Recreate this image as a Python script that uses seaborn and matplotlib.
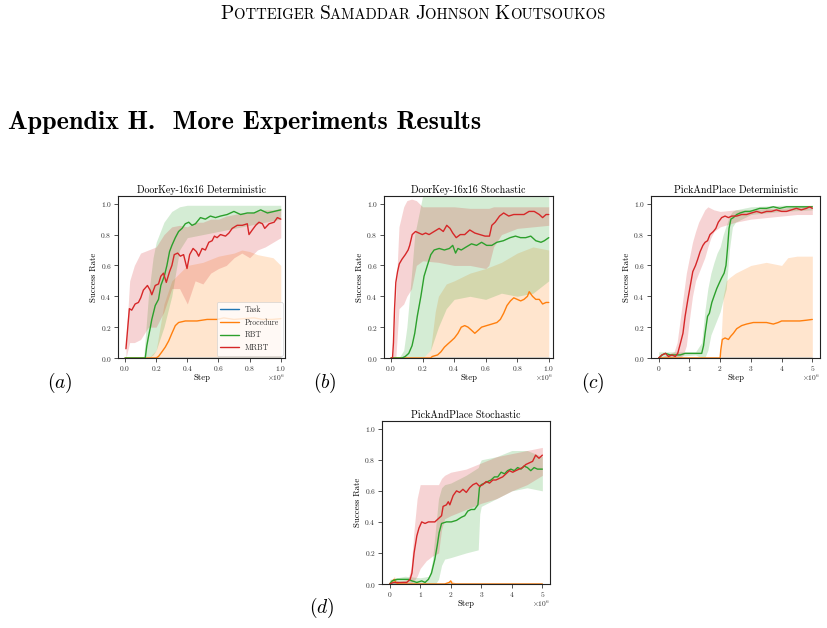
import numpy as np
import pandas as pd
import seaborn as sns
import matplotlib
matplotlib.use("Agg")
import matplotlib.pyplot as plt

# -------------------------
# 1. Data (steps in units of 1e6)
# -------------------------
series_names = ["Task", "Procedure", "RBT", "MRBT"]
series_colors = ["#1f77b4", "#ff7f0e", "#2ca02c", "#d62728"]

# ---- (a) DoorKey-16x16 Deterministic
a_task_x = [0.0, 1.0]
a_task_y = [0.0, 0.0]

a_proc_x = [0.0, 0.2, 0.215, 0.237, 0.258, 0.280, 0.301, 0.323, 0.344, 0.387, 0.462,
            0.527, 0.591, 0.634, 0.699, 0.763, 0.828, 0.882, 0.946, 1.0]
a_proc_y = [0.0, 0.0, 0.01, 0.04, 0.07, 0.11, 0.16, 0.21, 0.23, 0.24, 0.24,
            0.25, 0.25, 0.26, 0.25, 0.255, 0.26, 0.25, 0.25, 0.255]
a_proc_bx = [0.0, 0.15, 0.2, 0.25, 0.3, 0.35, 0.4, 0.5, 0.6, 0.7, 0.75, 0.8, 0.85, 0.9, 0.95, 1.0]
a_proc_lo = [0.0] * 16
a_proc_hi = [0.0, 0.0, 0.05, 0.35, 0.5, 0.55, 0.6, 0.62, 0.66, 0.68, 0.70, 0.69, 0.67, 0.66, 0.65, 0.6]

a_rbt_x = [0.0, 0.13, 0.140, 0.151, 0.161, 0.172, 0.194, 0.215, 0.230, 0.252, 0.269, 0.286,
           0.301, 0.323, 0.344, 0.366, 0.387, 0.409, 0.430, 0.452, 0.484, 0.516, 0.548,
           0.581, 0.613, 0.656, 0.699, 0.742, 0.785, 0.828, 0.871, 0.914, 0.957, 1.0]
a_rbt_y = [0.0, 0.0, 0.08, 0.14, 0.19, 0.25, 0.34, 0.38, 0.47, 0.53, 0.60, 0.69,
           0.73, 0.78, 0.82, 0.84, 0.87, 0.88, 0.86, 0.87, 0.91, 0.90, 0.92,
           0.91, 0.92, 0.93, 0.95, 0.93, 0.94, 0.94, 0.96, 0.94, 0.95, 0.96]
a_rbt_bx = [0.0, 0.12, 0.15, 0.18, 0.2, 0.25, 0.3, 0.35, 0.4, 0.5, 0.6, 0.7, 0.8, 0.9, 1.0]
a_rbt_lo = [0.0, 0.0, 0.0, 0.02, 0.05, 0.2, 0.4, 0.7, 0.78, 0.8, 0.82, 0.84, 0.86, 0.88, 0.9]
a_rbt_hi = [0.0, 0.0, 0.4, 0.65, 0.75, 0.88, 0.95, 0.98, 0.99, 0.99, 0.99, 0.99, 0.99, 0.99, 0.99]

a_mrbt_x = [0.006, 0.028, 0.043, 0.065, 0.086, 0.101, 0.118, 0.144, 0.161, 0.172, 0.194,
            0.215, 0.230, 0.247, 0.265, 0.286, 0.301, 0.316, 0.338, 0.355, 0.376, 0.398,
            0.415, 0.437, 0.458, 0.473, 0.495, 0.516, 0.538, 0.559, 0.574, 0.591, 0.613,
            0.645, 0.667, 0.688, 0.720, 0.753, 0.785, 0.796, 0.817, 0.839, 0.860, 0.882,
            0.897, 0.925, 0.957, 0.978, 1.0]
a_mrbt_y = [0.06, 0.32, 0.31, 0.35, 0.36, 0.39, 0.44, 0.47, 0.44, 0.41, 0.47,
            0.48, 0.53, 0.55, 0.49, 0.56, 0.60, 0.67, 0.68, 0.66, 0.67, 0.58,
            0.67, 0.71, 0.69, 0.66, 0.71, 0.70, 0.75, 0.76, 0.79, 0.78, 0.80,
            0.79, 0.81, 0.84, 0.86, 0.86, 0.87, 0.80, 0.83, 0.86, 0.88, 0.87,
            0.84, 0.87, 0.88, 0.91, 0.90]
a_mrbt_bx = [0.006, 0.03, 0.06, 0.1, 0.15, 0.2, 0.25, 0.3, 0.35, 0.4, 0.45, 0.5, 0.55,
             0.6, 0.65, 0.7, 0.75, 0.8, 0.85, 0.9, 0.95, 1.0]
a_mrbt_lo = [0.0, 0.1, 0.1, 0.12, 0.2, 0.2, 0.3, 0.45, 0.45, 0.35, 0.5, 0.48, 0.55,
             0.58, 0.6, 0.65, 0.68, 0.65, 0.7, 0.72, 0.75, 0.78]
a_mrbt_hi = [0.1, 0.5, 0.6, 0.68, 0.70, 0.72, 0.8, 0.85, 0.86, 0.85, 0.88, 0.88, 0.9,
             0.9, 0.92, 0.93, 0.94, 0.94, 0.95, 0.96, 0.96, 0.97]

# ---- (b) DoorKey-16x16 Stochastic
b_task_x = [0.0, 1.0]
b_task_y = [0.0, 0.0]

b_proc_x = [0.0, 0.25, 0.262, 0.295, 0.316, 0.338, 0.359, 0.381, 0.402, 0.424, 0.445,
            0.467, 0.488, 0.510, 0.531, 0.553, 0.574, 0.606, 0.639, 0.671, 0.693, 0.714,
            0.735, 0.757, 0.778, 0.800, 0.822, 0.843, 0.865, 0.876, 0.897, 0.918, 0.940,
            0.961, 0.983, 1.0]
b_proc_y = [0.0, 0.0, 0.01, 0.02, 0.04, 0.07, 0.09, 0.11, 0.13, 0.16, 0.20,
            0.21, 0.20, 0.18, 0.16, 0.18, 0.20, 0.21, 0.22, 0.23, 0.25, 0.29,
            0.34, 0.37, 0.39, 0.38, 0.37, 0.38, 0.40, 0.43, 0.40, 0.38, 0.38,
            0.35, 0.36, 0.36]
b_proc_bx = [0.0, 0.2, 0.25, 0.28, 0.3, 0.35, 0.4, 0.5, 0.6, 0.7, 0.8, 0.9, 1.0]
b_proc_lo = [0.0] * 13
b_proc_hi = [0.0, 0.0, 0.05, 0.3, 0.4, 0.48, 0.5, 0.55, 0.58, 0.62, 0.68, 0.72, 0.7]

b_rbt_x = [0.0, 0.07, 0.090, 0.112, 0.133, 0.150, 0.166, 0.189, 0.209, 0.230, 0.252,
           0.273, 0.305, 0.338, 0.370, 0.391, 0.409, 0.424, 0.445, 0.477, 0.510, 0.542,
           0.574, 0.606, 0.639, 0.671, 0.712, 0.755, 0.789, 0.821, 0.854, 0.886, 0.918,
           0.951, 0.972, 1.0]
b_rbt_y = [0.0, 0.0, 0.01, 0.03, 0.08, 0.16, 0.27, 0.40, 0.53, 0.60, 0.67,
           0.70, 0.71, 0.70, 0.71, 0.73, 0.68, 0.71, 0.70, 0.72, 0.74, 0.73,
           0.75, 0.73, 0.73, 0.75, 0.76, 0.78, 0.79, 0.78, 0.78, 0.79, 0.76,
           0.75, 0.76, 0.78]
b_rbt_bx = [0.0, 0.05, 0.08, 0.1, 0.13, 0.15, 0.18, 0.2, 0.25, 0.3, 0.35, 0.4, 0.5,
            0.6, 0.7, 0.8, 0.9, 1.0]
b_rbt_lo = [0.0, 0.0, 0.0, 0.0, 0.0, 0.0, 0.0, 0.0, 0.05, 0.2, 0.32, 0.38, 0.4,
            0.38, 0.42, 0.4, 0.42, 0.5]
b_rbt_hi = [0.0, 0.0, 0.05, 0.2, 0.55, 0.8, 0.95, 1.05, 1.05, 1.05, 1.05, 1.05, 1.05,
            1.05, 1.05, 1.05, 1.05, 1.05]

b_mrbt_x = [0.0, 0.009, 0.015, 0.022, 0.030, 0.041, 0.052, 0.069, 0.090, 0.108, 0.118,
            0.134, 0.155, 0.176, 0.198, 0.219, 0.241, 0.273, 0.305, 0.331, 0.353, 0.374,
            0.391, 0.413, 0.439, 0.467, 0.499, 0.531, 0.563, 0.596, 0.624, 0.639, 0.660,
            0.688, 0.714, 0.746, 0.778, 0.811, 0.843, 0.875, 0.908, 0.940, 0.961, 0.983,
            1.0]
b_mrbt_y = [0.0, 0.0, 0.10, 0.32, 0.49, 0.56, 0.61, 0.64, 0.67, 0.70, 0.73,
            0.80, 0.82, 0.81, 0.80, 0.81, 0.80, 0.82, 0.84, 0.82, 0.86, 0.84,
            0.81, 0.78, 0.80, 0.80, 0.83, 0.81, 0.80, 0.79, 0.79, 0.86, 0.88,
            0.92, 0.94, 0.92, 0.93, 0.93, 0.93, 0.95, 0.95, 0.93, 0.91, 0.93,
            0.93]
b_mrbt_bx = [0.0, 0.01, 0.03, 0.05, 0.08, 0.1, 0.13, 0.16, 0.2, 0.3, 0.4, 0.5, 0.6,
             0.62, 0.65, 0.7, 0.8, 0.9, 1.0]
b_mrbt_lo = [0.0, 0.0, 0.0, 0.32, 0.35, 0.4, 0.45, 0.6, 0.63, 0.62, 0.6, 0.6, 0.58,
             0.6, 0.72, 0.8, 0.84, 0.85, 0.86]
b_mrbt_hi = [0.0, 0.0, 0.4, 0.85, 0.98, 1.02, 1.03, 1.02, 0.98, 0.98, 0.98, 0.97, 0.97,
             0.97, 0.98, 0.98, 0.98, 0.98, 0.98]

# ---- (c) PickAndPlace Deterministic
c_task_x = [0.0, 5.0]
c_task_y = [0.0, 0.0]

c_proc_x = [0.0, 2.0, 2.02, 2.07, 2.16, 2.27, 2.34, 2.43, 2.54, 2.70, 2.86, 3.08,
            3.29, 3.51, 3.73, 3.89, 4.0, 4.27, 4.59, 4.81, 5.0]
c_proc_y = [0.0, 0.0, 0.05, 0.12, 0.13, 0.12, 0.14, 0.16, 0.19, 0.21, 0.22, 0.23,
            0.23, 0.23, 0.22, 0.23, 0.24, 0.24, 0.24, 0.245, 0.25]
c_proc_bx = [0.0, 2.0, 2.05, 2.1, 2.2, 2.3, 2.5, 3.0, 3.5, 4.0, 4.2, 4.5, 5.0]
c_proc_lo = [0.0] * 13
c_proc_hi = [0.0, 0.0, 0.2, 0.4, 0.5, 0.52, 0.55, 0.6, 0.62, 0.6, 0.65, 0.66, 0.66]

c_rbt_x = [0.0, 0.11, 0.22, 0.38, 0.54, 0.70, 0.86, 1.03, 1.19, 1.30, 1.40, 1.46,
           1.51, 1.59, 1.65, 1.73, 1.80, 1.89, 1.98, 2.05, 2.13, 2.19, 2.24, 2.29,
           2.35, 2.43, 2.54, 2.65, 2.81, 2.97, 3.13, 3.29, 3.51, 3.73, 3.94, 4.16,
           4.37, 4.59, 4.81, 5.0]
c_rbt_y = [0.0, 0.02, 0.03, 0.02, 0.02, 0.02, 0.03, 0.03, 0.03, 0.03, 0.03, 0.08,
           0.16, 0.27, 0.29, 0.36, 0.40, 0.45, 0.49, 0.52, 0.55, 0.60, 0.71, 0.84,
           0.90, 0.91, 0.93, 0.94, 0.95, 0.95, 0.96, 0.97, 0.97, 0.98, 0.97, 0.98,
           0.98, 0.98, 0.98, 0.98]
c_rbt_bx = [0.0, 1.2, 1.4, 1.5, 1.6, 1.7, 1.8, 1.9, 2.0, 2.1, 2.2, 2.3, 2.4, 2.5, 3.0,
            4.0, 5.0]
c_rbt_lo = [0.0, 0.02, 0.0, 0.0, 0.05, 0.15, 0.2, 0.25, 0.3, 0.38, 0.45, 0.7, 0.85,
            0.88, 0.93, 0.95, 0.96]
c_rbt_hi = [0.04, 0.04, 0.1, 0.3, 0.45, 0.55, 0.62, 0.68, 0.72, 0.8, 0.86, 0.92, 0.95,
            0.96, 0.98, 0.99, 0.99]

c_mrbt_x = [0.0, 0.11, 0.22, 0.32, 0.43, 0.54, 0.62, 0.70, 0.79, 0.86, 0.95, 1.03,
            1.11, 1.20, 1.27, 1.35, 1.44, 1.51, 1.59, 1.67, 1.78, 1.86, 1.94, 2.05,
            2.16, 2.27, 2.38, 2.54, 2.70, 2.86, 3.02, 3.19, 3.35, 3.51, 3.67, 3.83,
            4.0, 4.16, 4.32, 4.48, 4.64, 4.81, 4.91, 5.0]
c_mrbt_y = [0.0, 0.02, 0.03, 0.01, 0.02, 0.01, 0.03, 0.09, 0.16, 0.27, 0.38, 0.47,
            0.56, 0.60, 0.64, 0.69, 0.73, 0.75, 0.76, 0.80, 0.82, 0.84, 0.88, 0.91,
            0.92, 0.91, 0.92, 0.92, 0.93, 0.93, 0.94, 0.95, 0.94, 0.95, 0.95, 0.96,
            0.95, 0.95, 0.96, 0.97, 0.96, 0.97, 0.98, 0.97]
c_mrbt_bx = [0.0, 0.5, 0.6, 0.7, 0.8, 0.9, 1.0, 1.1, 1.2, 1.3, 1.4, 1.5, 1.6, 1.7,
             1.8, 2.0, 2.5, 3.0, 3.5, 4.0, 4.5, 5.0]
c_mrbt_lo = [0.0, 0.0, 0.0, 0.0, 0.02, 0.08, 0.25, 0.4, 0.5, 0.55, 0.6, 0.65, 0.72,
             0.78, 0.82, 0.85, 0.88, 0.9, 0.91, 0.92, 0.93, 0.93]
c_mrbt_hi = [0.0, 0.04, 0.1, 0.25, 0.4, 0.55, 0.65, 0.75, 0.82, 0.88, 0.92, 0.96,
             0.98, 0.97, 0.96, 0.95, 0.96, 0.96, 0.97, 0.97, 0.98, 0.99]

# ---- (d) PickAndPlace Stochastic
d_task_x = [0.0, 5.0]
d_task_y = [0.0, 0.0]

d_proc_x = [0.0, 0.1, 0.15, 0.2, 0.3, 1.8, 1.95, 2.0, 2.05, 2.2, 5.0]
d_proc_y = [0.0, 0.02, 0.03, 0.01, 0.0, 0.0, 0.01, 0.02, 0.0, 0.0, 0.0]
d_proc_bx = [0.0, 0.1, 0.15, 0.25, 0.5, 1.8, 1.95, 2.05, 2.2, 5.0]
d_proc_lo = [0.0] * 10
d_proc_hi = [0.0, 0.03, 0.05, 0.02, 0.0, 0.0, 0.02, 0.02, 0.0, 0.0]

d_rbt_x = [0.0, 0.08, 0.24, 0.45, 0.62, 0.73, 0.89, 1.05, 1.16, 1.27, 1.37, 1.48,
           1.56, 1.62, 1.70, 1.86, 2.02, 2.19, 2.35, 2.46, 2.56, 2.67, 2.78, 2.89,
           2.94, 3.0, 3.11, 3.21, 3.32, 3.43, 3.54, 3.65, 3.76, 3.86, 3.97, 4.08,
           4.19, 4.30, 4.40, 4.51, 4.62, 4.73, 4.84, 4.95, 5.0]
d_rbt_y = [0.0, 0.02, 0.03, 0.03, 0.03, 0.02, 0.01, 0.02, 0.01, 0.03, 0.07, 0.16,
           0.25, 0.33, 0.39, 0.40, 0.40, 0.41, 0.43, 0.44, 0.47, 0.48, 0.48, 0.51,
           0.62, 0.64, 0.65, 0.66, 0.67, 0.69, 0.69, 0.72, 0.71, 0.73, 0.74, 0.73,
           0.75, 0.74, 0.76, 0.75, 0.73, 0.75, 0.74, 0.74, 0.74]
d_rbt_bx = [0.0, 0.5, 1.0, 1.3, 1.4, 1.5, 1.6, 1.7, 1.8, 2.0, 2.5, 2.9, 2.95, 3.0,
            3.5, 4.0, 4.5, 5.0]
d_rbt_lo = [0.0, 0.01, 0.0, 0.0, 0.0, 0.0, 0.03, 0.12, 0.16, 0.17, 0.2, 0.22, 0.45,
            0.5, 0.55, 0.6, 0.62, 0.6]
d_rbt_hi = [0.03, 0.05, 0.04, 0.05, 0.15, 0.35, 0.55, 0.62, 0.64, 0.65, 0.7, 0.75,
            0.78, 0.8, 0.82, 0.86, 0.86, 0.82]

d_mrbt_x = [0.0, 0.13, 0.35, 0.56, 0.67, 0.73, 0.80, 0.89, 0.96, 1.05, 1.16, 1.27,
            1.37, 1.48, 1.59, 1.70, 1.75, 1.86, 1.92, 1.97, 2.08, 2.19, 2.29, 2.40,
            2.51, 2.62, 2.73, 2.84, 2.94, 3.05, 3.16, 3.27, 3.38, 3.48, 3.59, 3.70,
            3.81, 3.92, 4.03, 4.13, 4.24, 4.35, 4.46, 4.57, 4.68, 4.78, 4.89, 5.0]
d_mrbt_y = [0.0, 0.01, 0.01, 0.01, 0.03, 0.07, 0.20, 0.31, 0.36, 0.40, 0.39, 0.40,
            0.40, 0.40, 0.42, 0.44, 0.50, 0.51, 0.53, 0.51, 0.57, 0.60, 0.59, 0.61,
            0.59, 0.62, 0.64, 0.65, 0.63, 0.64, 0.66, 0.65, 0.67, 0.67, 0.68, 0.69,
            0.71, 0.73, 0.72, 0.73, 0.74, 0.75, 0.77, 0.78, 0.79, 0.83, 0.81, 0.83]
d_mrbt_bx = [0.0, 0.6, 0.7, 0.8, 0.9, 1.0, 1.2, 1.4, 1.6, 1.7, 1.8, 2.0, 2.5, 3.0,
             3.5, 4.0, 4.5, 5.0]
d_mrbt_lo = [0.0, 0.0, 0.0, 0.02, 0.05, 0.1, 0.15, 0.18, 0.2, 0.35, 0.42, 0.44, 0.48,
             0.52, 0.55, 0.6, 0.64, 0.7]
d_mrbt_hi = [0.0, 0.03, 0.1, 0.35, 0.55, 0.64, 0.64, 0.64, 0.64, 0.68, 0.7, 0.72,
             0.74, 0.78, 0.82, 0.84, 0.86, 0.88]

titles = ["DoorKey-16x16 Deterministic", "DoorKey-16x16 Stochastic",
          "PickAndPlace Deterministic", "PickAndPlace Stochastic"]
panel_tags = ["$(a)$", "$(b)$", "$(c)$", "$(d)$"]
x_ticks_small = [0.0, 0.2, 0.4, 0.6, 0.8, 1.0]
x_ticks_big = [0, 1, 2, 3, 4, 5]
y_ticks = [0.0, 0.2, 0.4, 0.6, 0.8, 1.0]

panels = [
    [(a_task_x, a_task_y, a_task_x, [0, 0], [0, 0]),
     (a_proc_x, a_proc_y, a_proc_bx, a_proc_lo, a_proc_hi),
     (a_rbt_x, a_rbt_y, a_rbt_bx, a_rbt_lo, a_rbt_hi),
     (a_mrbt_x, a_mrbt_y, a_mrbt_bx, a_mrbt_lo, a_mrbt_hi)],
    [(b_task_x, b_task_y, b_task_x, [0, 0], [0, 0]),
     (b_proc_x, b_proc_y, b_proc_bx, b_proc_lo, b_proc_hi),
     (b_rbt_x, b_rbt_y, b_rbt_bx, b_rbt_lo, b_rbt_hi),
     (b_mrbt_x, b_mrbt_y, b_mrbt_bx, b_mrbt_lo, b_mrbt_hi)],
    [(c_task_x, c_task_y, c_task_x, [0, 0], [0, 0]),
     (c_proc_x, c_proc_y, c_proc_bx, c_proc_lo, c_proc_hi),
     (c_rbt_x, c_rbt_y, c_rbt_bx, c_rbt_lo, c_rbt_hi),
     (c_mrbt_x, c_mrbt_y, c_mrbt_bx, c_mrbt_lo, c_mrbt_hi)],
    [(d_task_x, d_task_y, d_task_x, [0, 0], [0, 0]),
     (d_proc_x, d_proc_y, d_proc_bx, d_proc_lo, d_proc_hi),
     (d_rbt_x, d_rbt_y, d_rbt_bx, d_rbt_lo, d_rbt_hi),
     (d_mrbt_x, d_mrbt_y, d_mrbt_bx, d_mrbt_lo, d_mrbt_hi)],
]

# -------------------------
# 2. Style
# -------------------------
sns.set_theme(style="ticks")
plt.rcParams["font.family"] = ["cmr10", "DejaVu Serif"]
plt.rcParams["mathtext.fontset"] = "cm"
plt.rcParams["axes.formatter.use_mathtext"] = True
plt.rcParams["axes.unicode_minus"] = False
plt.rcParams["text.color"] = "black"
plt.rcParams["axes.labelcolor"] = "black"

W, H = 827, 628
fig = plt.figure(figsize=(W / 100, H / 100), dpi=100)
fig.patch.set_facecolor("white")


def px_box(left, top, right, bottom):
    return [left / W, 1 - bottom / H, (right - left) / W, (bottom - top) / H]


axes_boxes = [px_box(118, 196, 285, 358), px_box(384, 196, 553, 358),
              px_box(651, 196, 820, 358), px_box(382, 421, 550, 584)]
tag_pos = [(60, 383), (325, 383), (593, 383), (322, 608)]

# -------------------------
# 3. Panels
# -------------------------
for i in range(4):
    ax = fig.add_axes(axes_boxes[i])
    scale = 1e6
    for j, (lx, ly, bx, blo, bhi) in enumerate(panels[i]):
        col = series_colors[j]
        ax.fill_between(np.array(bx) * scale, blo, bhi, color=col, alpha=0.2,
                        linewidth=0)
    for j, (lx, ly, bx, blo, bhi) in enumerate(panels[i]):
        df = pd.DataFrame({"step": np.array(lx) * scale, "rate": ly})
        sns.lineplot(data=df, x="step", y="rate", ax=ax, color=series_colors[j],
                     linewidth=1.0, label=series_names[j], legend=False)

    if i < 2:
        ax.set_xticks(np.array(x_ticks_small) * scale)
        ax.set_xlim(-0.045e6, 1.027e6)
    else:
        ax.set_xticks(np.array(x_ticks_big) * scale)
        ax.set_xlim(-0.25e6, 5.25e6)
    ax.set_yticks(y_ticks)
    ax.set_ylim(0, 1.05)

    ax.set_title(titles[i], fontsize=7.2, pad=2.5)
    ax.set_xlabel("Step", fontsize=6.3, labelpad=0)
    ax.set_ylabel("Success Rate", fontsize=6.3, labelpad=1.5)
    ax.tick_params(labelsize=5.4, length=3, width=0.6, pad=1.5, colors="#333333",
                   labelcolor="#333333")
    off = ax.xaxis.get_offset_text()
    off.set_fontsize(5.4)
    off.set_va("center")
    off.set_color("#333333")
    for s in ax.spines.values():
        s.set_linewidth(0.8)
        s.set_color("#222222")
    ax.set_facecolor("white")

    if i == 0:
        leg = ax.legend(loc="lower right", fontsize=5.6, handlelength=2.4,
                        borderpad=0.45, labelspacing=0.55, framealpha=0.8,
                        fancybox=True, borderaxespad=0.3)
        leg.get_frame().set_linewidth(0.5)
        for t in leg.get_texts():
            t.set_color("#333333")

    tx, ty = tag_pos[i]
    fig.text(tx / W, 1 - ty / H, panel_tags[i], fontsize=14, ha="center",
             va="center")

# -------------------------
# 4. Page text
# -------------------------
fig.text(8 / W, 1 - 129 / H, "Appendix H.  More Experiments Results",
         fontfamily="cmb10", fontsize=18.8, ha="left", va="baseline")

# fake small caps header
renderer = fig.canvas.get_renderer()
words = ["Potteiger", "Samaddar", "Johnson", "Koutsoukos"]
pieces = []
for k, w in enumerate(words):
    pieces.append((w[0], 14))
    pieces.append((w[1:].upper() + (" " if k < len(words) - 1 else ""), 10.6))
texts = []
for s, fs in pieces:
    t = fig.text(0, 1 - 19 / H, s.replace(" ", "\u00a0"), fontsize=fs,
                 ha="left", va="baseline")
    texts.append(t)
widths = [t.get_window_extent(renderer).width for t in texts]
total = sum(widths)
x0 = 413 - total / 2
for t, wd in zip(texts, widths):
    t.set_x(x0 / W)
    x0 += wd

fig.savefig("out.png", dpi=100, facecolor="white")
